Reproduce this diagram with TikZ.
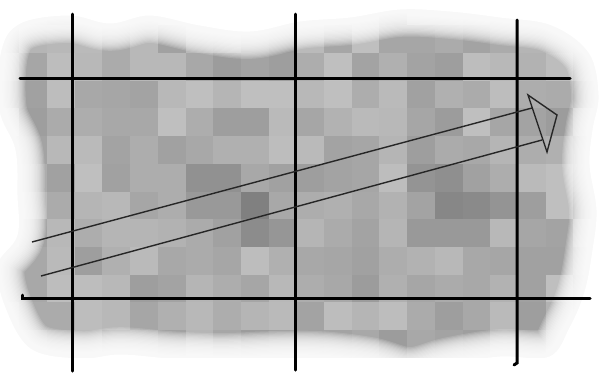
\documentclass[tikz,border=0pt]{standalone}
\begin{document}
\begin{tikzpicture}[x=1pt,y=-1pt,
  gridline/.style={black,line width=3pt,line cap=round},
  arrowline/.style={black!85,line width=1.4pt,line join=miter}]
\useasboundingbox (0,0) rectangle (602,376);
\def\blob{plot[smooth cycle,tension=0.6] coordinates{(0,50) (20,22) (70,14) (110,22) (150,14) (200,24) (250,30) (300,20) (350,16) (400,8) (450,10) (500,16) (552,24) (590,52) (600,95) (594,130) (591,165) (598,210) (594,250) (586,292) (571,328) (550,358) (500,358) (450,366) (410,376) (370,366) (320,360) (270,360) (220,362) (170,360) (120,356) (80,360) (30,350) (4,308) (-4,265) (16,235) (16,195) (14,150) (-2,110)}}
\begin{scope}
\clip \blob;
\pgfmathsetseed{11}
\foreach \i in {0,...,21}{
  \foreach \j in {0,...,12}{
    \pgfmathsetmacro\cx{-8.4+27.7*(\i+0.5)}
    \pgfmathsetmacro\cy{25.3+27.7*(\j-0.5)}
    \pgfmathsetmacro\v{int(25+15*rnd+15*exp(-(((\cx-230)/55)^2+((\cy-205)/35)^2))+15*exp(-(((\cx-462)/40)^2+((\cy-205)/40)^2)))}
    \fill[black!\v] (\cx-13.85,\cy-13.85) rectangle (\cx+13.85,\cy+13.85);
  }
}
\end{scope}
\foreach \w in {2.4,4.8,...,60}{
  \draw[white,opacity=0.14,line width=\w pt] \blob;
}
\draw[white,line width=3pt] \blob;
% grid lines
\coordinate (v1t) at (72,14);  \coordinate (v1b) at (72,371);
\coordinate (v2t) at (295,14); \coordinate (v2b) at (295,370);
\coordinate (v3t) at (517,20); \coordinate (v3b) at (517,363);
\coordinate (h1l) at (20,78);  \coordinate (h1r) at (570,78);
\coordinate (h2l) at (22,298); \coordinate (h2r) at (590,298);
\draw[gridline] (v1t) -- (v1b);
\draw[gridline] (v2t) -- (v2b);
\draw[gridline] (v3t) -- (v3b) -- ++(-3,2);
\draw[gridline] (h1l) -- (h1r);
\draw[gridline] (h2l) ++(0,-3) -- (h2l) -- (h2r);
% hollow arrow
\coordinate (s1) at (32,242);
\coordinate (s2) at (41,276);
\coordinate (e1) at (532,108);
\coordinate (e2) at (542,140);
\coordinate (b1) at (528,95);
\coordinate (b2) at (547,152);
\coordinate (tip) at (557,115);
\draw[arrowline] (s1) -- (e1);
\draw[arrowline] (s2) -- (e2);
\draw[arrowline] (b1) -- (tip) -- (b2) -- cycle;
\end{tikzpicture}
\end{document}
